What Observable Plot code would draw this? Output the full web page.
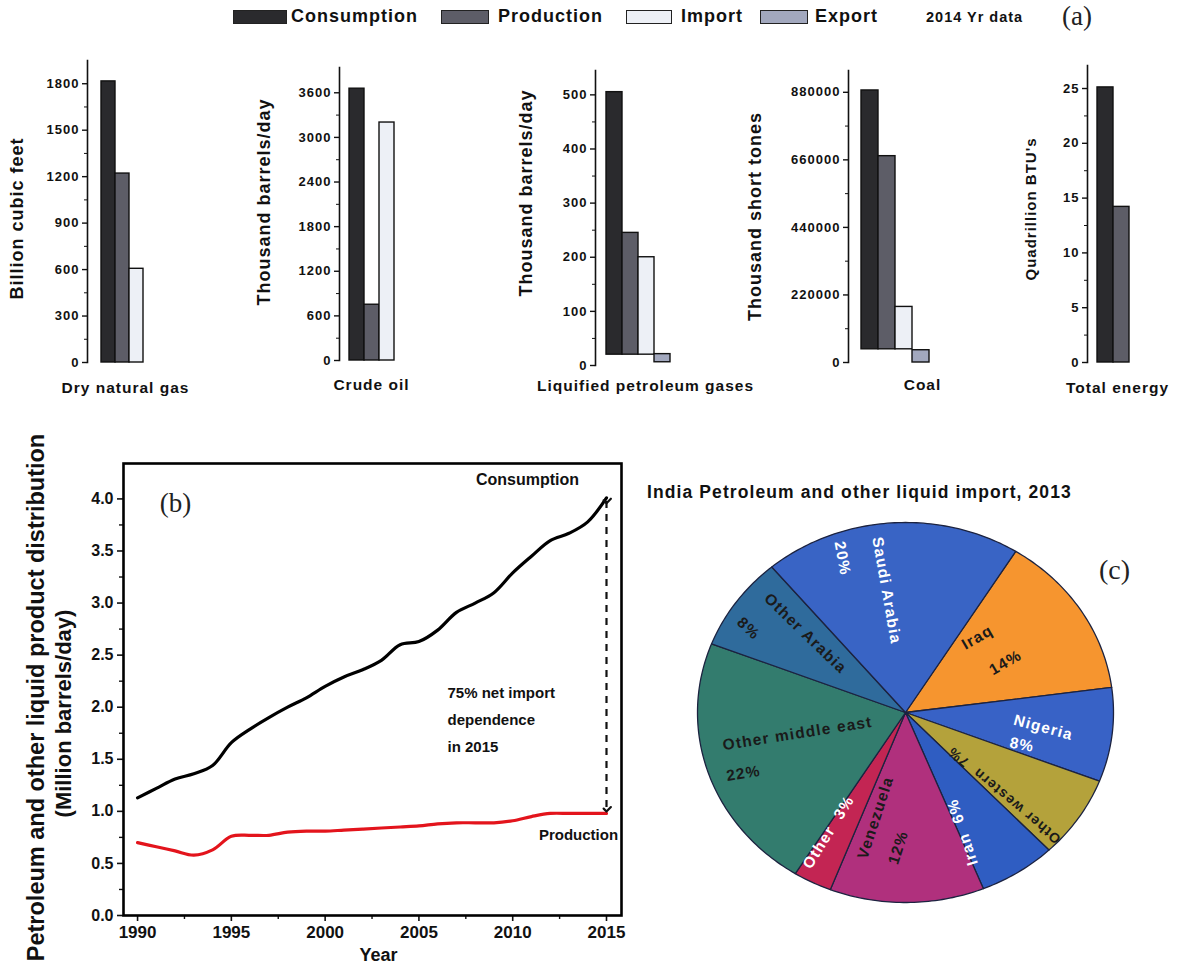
<!DOCTYPE html>
<html><head><meta charset="utf-8">
<script src="https://cdn.jsdelivr.net/npm/d3@7"></script>
<script src="https://cdn.jsdelivr.net/npm/@observablehq/plot@0.6"></script>
<style>
body{margin:0;background:#fff;font-family:"Liberation Sans",Arial,sans-serif;}
#root{position:relative;width:1177px;height:967px;overflow:hidden;background:#fff;}
.abs{position:absolute;white-space:nowrap;}
.sw{position:absolute;height:14px;border:1.5px solid #222;box-sizing:border-box;}
.lg{position:absolute;font-weight:bold;font-size:18px;letter-spacing:1px;color:#111;white-space:nowrap;}
.serif{font-family:"Liberation Serif","DejaVu Serif",serif;color:#222;}
</style></head><body><div id="root"></div>
<script>
// ---------- data: panel (a) 2014 ----------
const categories = ["Consumption","Production","Import","Export"];
const barColors = ["#2a2a2d","#5d5d67","#edf0f6","#a2a8be"];
const gasValues = [1815,1220,605,0];
const oilValues = [3655,750,3200,0];
const lpgValues = [505,245,200,21];
const lpgBase = [20,20,20,6];
const coalValues = [886000,672000,181000,40000];
const coalBase = [43000,43000,43000,0];
const energyValues = [25.1,14.2,0,0];

const gasTicks = [0,300,600,900,1200,1500,1800];
const oilTicks = [0,600,1200,1800,2400,3000,3600];
const lpgTicks = [0,100,200,300,400,500];
const coalTicks = [0,220000,440000,660000,880000];
const energyTicks = [0,5,10,15,20,25];

// ---------- data: panel (b) ----------
const years = [1990,1991,1992,1993,1994,1995,1996,1997,1998,1999,2000,2001,2002,2003,2004,2005,2006,2007,2008,2009,2010,2011,2012,2013,2014,2015];
const consumption = [1.13,1.22,1.31,1.36,1.44,1.66,1.79,1.90,2.00,2.09,2.20,2.29,2.36,2.45,2.60,2.63,2.74,2.91,3.00,3.10,3.29,3.45,3.60,3.67,3.78,4.01];
const production = [0.70,0.66,0.62,0.58,0.63,0.76,0.77,0.77,0.80,0.81,0.81,0.82,0.83,0.84,0.85,0.86,0.88,0.89,0.89,0.89,0.91,0.95,0.98,0.98,0.98,0.98];
const yearTicks = [1990,1995,2000,2005,2010,2015];
const valueTicks = [0,0.5,1,1.5,2,2.5,3,3.5,4];

// ---------- data: panel (c) ----------
const pieNames = ["Iraq","Nigeria","Other western","Iran","Venezuela","Other","Other middle east","Other Arabia","Saudi Arabia"];
const pieShares = [14,8,7,6,12,3,22,8,20];
const pieColors = ["#f6952f","#3862c6","#b4a23b","#2f5dc2","#b0307d","#c32553","#337c6e","#2f6b9c","#3964c5"];

// ---------- layout ----------
const root = document.getElementById("root");
const FONT = '"Liberation Sans",Arial,sans-serif';
function place(el, left, top){ el.style.position="absolute"; el.style.left=left+"px"; el.style.top=top+"px"; root.appendChild(el); return el; }
function div(cls, html, left, top, extra){ const d=document.createElement("div"); d.className=cls; d.innerHTML=html; d.style.left=left+"px"; d.style.top=top+"px"; if(extra) Object.assign(d.style, extra); root.appendChild(d); return d; }

// legend (a)
const legendItems = [
  {x:233, w:54, tx:291},
  {x:441, w:48, tx:498},
  {x:626, w:46, tx:681},
  {x:760, w:48, tx:815}
];
categories.forEach((c,i)=>{
  const it = legendItems[i];
  div("sw","",it.x,10,{width:it.w+"px",background:barColors[i]});
  div("lg", c, it.tx, 6);
});
div("abs","2014 Yr data",926,9,{fontWeight:"bold",fontSize:"14.5px",letterSpacing:"1px",color:"#111"});
div("abs serif","(a)",1062,1,{fontSize:"27px"});

function minorOf(ticks){ const out=[]; for(let i=0;i<ticks.length-1;i++) out.push((ticks[i]+ticks[i+1])/2); return out; }

const barPanels = [
  {values:gasValues, base:null, ticks:gasTicks, domain:[0,1950], left:0, width:210, ml:87, mt:10, mb:38, xr:[101,157], ylabel:"Billion cubic feet", ylx:70, yly:7, yls:18, xlabel:"Dry natural gas", xlx:38, xly:26},
  {values:oilValues, base:null, ticks:oilTicks, domain:[0,3940], left:240, width:250, ml:99, mt:17, mb:40, xr:[108,169], ylabel:"Thousand barrels/day", ylx:75, yly:-12, yls:18, xlabel:"Crude oil", xlx:32, xly:25},
  {values:lpgValues, base:lpgBase, ticks:lpgTicks, domain:[0,545], left:490, width:250, ml:105, mt:20, mb:35, xr:[115,181], ylabel:"Thousand barrels/day", ylx:69, yly:-25, yls:18, xlabel:"Liquified petroleum gases", xlx:50, xly:21},
  {values:coalValues, base:coalBase, ticks:coalTicks, domain:[0,951000], left:730, width:250, ml:118, mt:20, mb:38, xr:[130,199], ylabel:"Thousand short tones", ylx:93, yly:0, yls:18, xlabel:"Coal", xlx:74, xly:23},
  {values:energyValues, base:null, ticks:energyTicks, domain:[0,27.1], left:980, width:197, ml:107, mt:15, mb:38, xr:[117,181], ylabel:"Quadrillion BTU's", ylx:56, yly:-5, yls:15, xlabel:"Total energy", xlx:30, xly:26}
];

barPanels.forEach(p=>{
  const data = categories.map((c,i)=>({cat:c, v:p.values[i], b:p.base?p.base[i]:0})).filter(d=>d.v>0);
  const svg = Plot.plot({
    width:p.width, height:350,
    marginLeft:p.ml, marginTop:p.mt, marginBottom:p.mb, marginRight:0,
    style:{fontFamily:FONT, fontSize:"13px", fontWeight:"bold", letterSpacing:"1px", color:"#111", background:"transparent", overflow:"visible"},
    x:{type:"band", domain:categories, range:p.xr, padding:0, axis:null},
    y:{domain:p.domain, axis:null},
    color:{domain:categories, range:barColors},
    marks:[
      Plot.rectY(data,{x:"cat", y1:"b", y2:"v", fill:"cat", stroke:"#111", strokeWidth:1.4}),
      Plot.axisY({ticks:p.ticks, tickSize:5, tickPadding:3, tickFormat:d=>String(d), label:null, stroke:"#111", strokeWidth:1.4}),
      Plot.axisY({ticks:minorOf(p.ticks), tickSize:3, text:null, label:null, stroke:"#111"}),
      Plot.frame({anchor:"left", stroke:"#111", strokeWidth:1.6}),
      Plot.text([p.ylabel],{frameAnchor:"left", dx:-p.ylx, dy:p.yly, rotate:-90, fontSize:p.yls, textAnchor:"middle", lineAnchor:"middle", fill:"#111"}),
      Plot.text([p.xlabel],{frameAnchor:"bottom-left", dx:p.xlx, dy:p.xly, fontSize:15.5, lineAnchor:"middle", textAnchor:"middle", fill:"#111"})
    ]
  });
  place(svg, p.left, 50);
});

// ---------- panel (b) ----------
const consData = years.map((y,i)=>({year:y, v:consumption[i]}));
const prodData = years.map((y,i)=>({year:y, v:production[i]}));
const last = years.length-1;
const lineSvg = Plot.plot({
  width:640, height:527,
  marginLeft:123, marginRight:19, marginTop:23, marginBottom:52,
  style:{fontFamily:FONT, fontSize:"16px", fontWeight:"bold", color:"#111", background:"transparent", overflow:"visible"},
  x:{domain:[1989.25,2015.8], axis:null},
  y:{domain:[0,4.34], axis:null},
  marks:[
    Plot.axisX({ticks:yearTicks, tickSize:6, tickPadding:4, tickFormat:d=>String(d), fontSize:17, label:null, strokeWidth:1.6}),
    Plot.axisX({ticks:minorOf(yearTicks), tickSize:4, text:null, label:null, strokeWidth:1.4}),
    Plot.axisY({ticks:valueTicks, tickSize:6, tickPadding:4, tickFormat:d3.format(".1f"), fontSize:16, label:null, strokeWidth:1.6}),
    Plot.axisY({ticks:minorOf(valueTicks), tickSize:4, text:null, label:null, strokeWidth:1.4}),
    Plot.frame({stroke:"#000", strokeWidth:2.6}),
    Plot.line(consData,{x:"year", y:"v", stroke:"#000", strokeWidth:3.2, curve:"catmull-rom"}),
    Plot.line(prodData,{x:"year", y:"v", stroke:"#e3141c", strokeWidth:3.2, curve:"catmull-rom"}),
    Plot.link([{x:years[last], a:consumption[last], b:production[last]}],{x1:"x", x2:"x", y1:d=>d.a-0.03, y2:d=>d.b+0.04, stroke:"#111", strokeWidth:2.2, strokeDasharray:"7,6", markerStart:"arrow", markerEnd:"arrow"}),
    Plot.text(["Consumption"],{frameAnchor:"top-left", dx:404, dy:16, fontSize:16, textAnchor:"middle", lineAnchor:"middle", fill:"#111"}),
    Plot.text(["Production"],{frameAnchor:"top-left", dx:455, dy:372, fontSize:15, textAnchor:"middle", lineAnchor:"middle", fill:"#111"}),
    Plot.text(["75% net import\ndependence\nin 2015"],{frameAnchor:"top-left", dx:324, dy:253, fontSize:15, textAnchor:"start", lineAnchor:"middle", lineHeight:1.78, fill:"#111"}),
    Plot.text(["(b)"],{frameAnchor:"top-left", dx:52, dy:40, fontSize:27, fontWeight:"normal", fontFamily:'"Liberation Serif",serif', textAnchor:"middle", lineAnchor:"middle", fill:"#222"}),
    Plot.text(["Year"],{frameAnchor:"bottom", dx:6, dy:40, fontSize:18, textAnchor:"middle", lineAnchor:"middle", fill:"#111"}),
    Plot.text(["Petroleum and other liquid product distribution"],{frameAnchor:"left", dx:-87, dy:8, rotate:-90, fontSize:23.5, textAnchor:"middle", lineAnchor:"middle", fill:"#111"}),
    Plot.text(["(Million barrels/day)"],{frameAnchor:"left", dx:-60, dy:24, rotate:-90, fontSize:22, textAnchor:"middle", lineAnchor:"middle", fill:"#111"})
  ]
});
place(lineSvg, 0, 440);

// ---------- panel (c) ----------
div("abs","India Petroleum and other liquid import, 2013",647,482,{fontWeight:"bold",fontSize:"17.5px",letterSpacing:"1.1px",color:"#111"});
div("abs serif","(c)",1099,554,{fontSize:"28px"});

const startDeg = 32;
const arcs = d3.pie().sort(null).startAngle(startDeg*Math.PI/180).endAngle(startDeg*Math.PI/180+2*Math.PI)(pieShares);
const sliceMarks = arcs.map((a,i)=>{
  const pts=[{x:0,y:0}];
  const n = Math.max(2, Math.ceil((a.endAngle-a.startAngle)/(Math.PI/180)));
  for(let k=0;k<=n;k++){ const t=a.startAngle+(a.endAngle-a.startAngle)*k/n; pts.push({x:Math.sin(t), y:Math.cos(t)}); }
  pts.push({x:0,y:0});
  return Plot.line(pts,{x:"x", y:"y", fill:pieColors[i], stroke:"#1c2340", strokeWidth:1.3, curve:"linear"});
});
// label layout (unit-circle positions, rotations, sizes), kept apart from the data
const pieLabels = [
  {t:"Iraq", x:0.346, y:0.395, r:-30, c:"#1a1a1a", s:15.5},
  {t:"14%", x:0.481, y:0.263, r:-30, c:"#1a1a1a", s:15.5},
  {t:"Nigeria", x:0.663, y:-0.079, r:15, c:"#ffffff", s:15.5},
  {t:"8%", x:0.56, y:-0.17, r:10, c:"#ffffff", s:15.5},
  {t:"Other western  7%", x:0.475, y:-0.435, r:-140, c:"#1a1a1a", s:14},
  {t:"Iran  6%", x:0.274, y:-0.63, r:-108, c:"#ffffff", s:15.5},
  {t:"Venezuela", x:-0.144, y:-0.553, r:-72, c:"#1a1a1a", s:15.5},
  {t:"12%", x:-0.034, y:-0.711, r:-72, c:"#1a1a1a", s:15.5},
  {t:"Other  3%", x:-0.37, y:-0.63, r:-58, c:"#ffffff", s:15.5},
  {t:"Other middle east", x:-0.519, y:-0.111, r:-9, c:"#1a1a1a", s:15.5},
  {t:"22%", x:-0.779, y:-0.321, r:-9, c:"#1a1a1a", s:15.5},
  {t:"Other Arabia", x:-0.481, y:0.416, r:44, c:"#1a1a1a", s:15.5},
  {t:"8%", x:-0.755, y:0.442, r:44, c:"#1a1a1a", s:15.5},
  {t:"Saudi Arabia", x:-0.091, y:0.642, r:80, c:"#ffffff", s:15.5},
  {t:"20%", x:-0.303, y:0.811, r:80, c:"#ffffff", s:15.5}
];
const pieSvg = Plot.plot({
  width:440, height:400,
  marginLeft:7, marginRight:17, marginTop:7, marginBottom:13,
  style:{fontFamily:FONT, fontSize:"16px", fontWeight:"bold", letterSpacing:"1.2px", background:"transparent", overflow:"visible"},
  x:{domain:[-1,1], axis:null},
  y:{domain:[-1,1], axis:null},
  marks:[
    ...sliceMarks,
    Plot.text(pieLabels,{x:"x", y:"y", text:"t", rotate:"r", fill:"c", fontSize:"s", textAnchor:"middle", lineAnchor:"middle"})
  ]
});
place(pieSvg, 690, 515);
</script></body></html>
